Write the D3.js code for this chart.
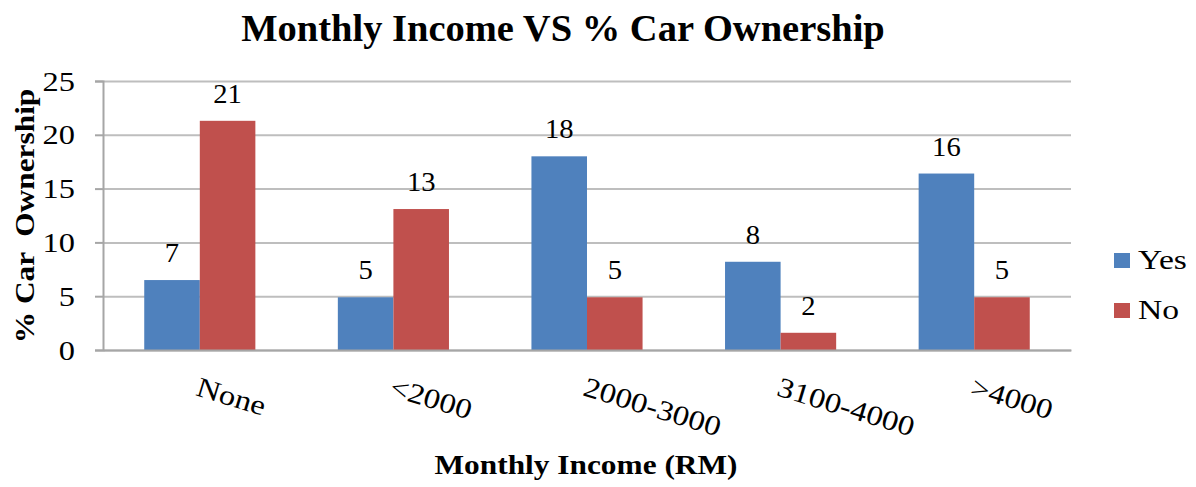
<!DOCTYPE html>
<html>
<head>
<meta charset="utf-8">
<script src="https://cdn.jsdelivr.net/npm/d3@7"></script>
<style>
  body { margin: 0; background: #fff; }
  text { font-family: "Liberation Serif", "Times New Roman", serif; fill: #000; }
</style>
</head>
<body>
<script>
// chart data
var categories = ['None', '\u02C22000', '2000-3000', '3100-4000', '\u02C34000'];
var seriesNames = ['Yes', 'No'];
var yesValues = [6.5, 4.9, 18.0, 8.2, 16.4];
var noValues = [21.3, 13.1, 4.9, 1.6, 4.9];
var yTicks = [0, 5, 10, 15, 20, 25];

var colors = {Yes: '#4F81BD', No: '#C0504D'};

var width = 1196,
    height = 487,
    plotLeft = 103,
    plotRight = 1071,
    plotTop = 81,
    plotBottom = 350;

// the source text is a bit wider than plain Times, stretch it sideways
var stretch = 1.17;

var svg = d3.select('body')
    .append('svg')
    .attr('width', width)
    .attr('height', height);

var x = d3.scaleBand()
    .domain(categories)
    .range([plotLeft, plotRight])
    .paddingInner(0.426)
    .paddingOuter(0.213);

var xSeries = d3.scaleBand()
    .domain(seriesNames)
    .range([0, x.bandwidth()]);

var y = d3.scaleLinear()
    .domain([0, 25])
    .range([plotBottom, plotTop]);

// gridlines
svg.append('g')
    .attr('class', 'grid')
    .attr('transform', 'translate(' + plotLeft + ',0)')
    .call(d3.axisLeft(y).tickValues(yTicks).tickSize(-(plotRight - plotLeft)).tickFormat(''))
    .call(function(g) {
        g.select('.domain').remove();
        g.selectAll('line').attr('stroke', '#BEBEBE').attr('stroke-width', 2);
    });

// bars
var rows = categories.map(function(c, i) {
    return {cat: c, values: [{key: 'Yes', v: yesValues[i]}, {key: 'No', v: noValues[i]}]};
});

var groups = svg.append('g').selectAll('g')
    .data(rows)
    .enter().append('g')
    .attr('transform', function(d) { return 'translate(' + x(d.cat) + ',0)'; });

groups.selectAll('rect')
    .data(function(d) { return d.values; })
    .enter().append('rect')
    .attr('x', function(d) { return xSeries(d.key); })
    .attr('width', xSeries.bandwidth())
    .attr('y', function(d) { return y(d.v); })
    .attr('height', function(d) { return y(0) - y(d.v); })
    .attr('fill', function(d) { return colors[d.key]; });

// data labels
groups.selectAll('text.val')
    .data(function(d) { return d.values; })
    .enter().append('text')
    .attr('class', 'val')
    .attr('transform', function(d) {
        return 'translate(' + (xSeries(d.key) + xSeries.bandwidth() / 2) + ',' + (y(d.v) - 18) + ') scale(1.06,1)';
    })
    .attr('text-anchor', 'middle')
    .style('font-size', '27px')
    .text(function(d) { return Math.round(d.v); });

// y axis
svg.append('g')
    .attr('transform', 'translate(' + plotLeft + ',0)')
    .call(d3.axisLeft(y).tickValues(yTicks).tickSize(8).tickPadding(20))
    .call(function(g) {
        g.select('.domain').attr('stroke', '#A6A6A6').attr('stroke-width', 2);
        g.selectAll('line').attr('stroke', '#A6A6A6').attr('stroke-width', 2);
        g.selectAll('text')
            .style('font-size', '27px')
            .attr('fill', '#000')
            .attr('dy', '0.34em')
            .attr('transform', function() {
                var tx = +d3.select(this).attr('x');
                return 'translate(' + tx + ',0) scale(1.2,1)';
            })
            .attr('x', 0);
    });

// x axis
svg.append('g')
    .attr('transform', 'translate(0,' + plotBottom + ')')
    .call(d3.axisBottom(x).tickSize(0).tickFormat(''))
    .call(function(g) {
        g.select('.domain').attr('stroke', '#A6A6A6').attr('stroke-width', 2);
    });

// category labels (rotated)
svg.append('g').selectAll('text')
    .data(categories)
    .enter().append('text')
    .attr('transform', function(d) {
        return 'translate(' + (x(d) + x.bandwidth() / 2 + 1) + ',375) rotate(17) scale(' + stretch + ',1)';
    })
    .attr('y', 21)
    .style('font-size', '28px')
    .text(function(d) { return d; });

// title
svg.append('text')
    .attr('x', 563)
    .attr('y', 41)
    .attr('text-anchor', 'middle')
    .style('font-size', '38.5px')
    .style('font-weight', 'bold')
    .text('Monthly Income VS % Car Ownership');

// axis titles
svg.append('text')
    .attr('transform', 'translate(586,474) scale(1.12,1)')
    .attr('text-anchor', 'middle')
    .style('font-size', '28px')
    .style('font-weight', 'bold')
    .text('Monthly Income (RM)');

svg.append('text')
    .attr('transform', 'translate(34,216) rotate(-90) scale(1.12,1)')
    .attr('text-anchor', 'middle')
    .style('font-size', '28px')
    .style('font-weight', 'bold')
    .style('white-space', 'pre')
    .text('% Car  Ownership');

// legend
var legend = svg.append('g').selectAll('g')
    .data(seriesNames)
    .enter().append('g')
    .attr('transform', function(d, i) { return 'translate(1114,' + (253 + i * 50) + ')'; });

legend.append('rect')
    .attr('width', 16)
    .attr('height', 15)
    .attr('fill', function(d) { return colors[d]; });

legend.append('text')
    .attr('transform', 'translate(24,16) scale(1.2,1)')
    .style('font-size', '28px')
    .text(function(d) { return d; });
</script>
</body>
</html>
